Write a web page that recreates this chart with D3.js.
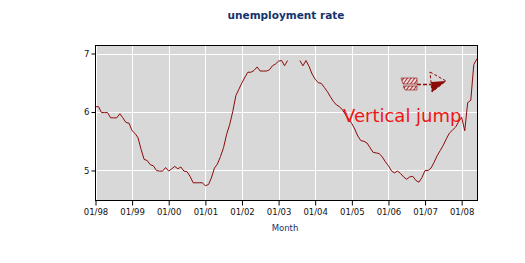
<!DOCTYPE html>
<html>
<head>
<meta charset="utf-8">
<script src="https://cdn.jsdelivr.net/npm/d3@7"></script>
<style>
  html, body { margin: 0; padding: 0; background: #ffffff; }
  svg { display: block; }
</style>
</head>
<body>
<svg id="chart" width="525" height="263"></svg>
<script>
// ---- data ----
const titleText = "unemployment rate";
const xAxisTitle = "Month";
const startYear = 1998;
const rateValues = [
  6.09,6.09,5.99,5.99,5.99,5.90,5.90,5.90,5.97,5.90,5.82,5.81,
  5.68,5.63,5.56,5.36,5.19,5.17,5.10,5.08,5.00,4.99,4.99,5.05,
  4.99,5.03,5.07,5.03,5.06,4.99,4.98,4.90,4.79,4.79,4.79,4.79,
  4.74,4.76,4.87,5.04,5.11,5.24,5.39,5.62,5.79,6.01,6.28,6.39,
  6.50,6.60,6.68,6.68,6.71,6.77,6.70,6.70,6.70,6.72,6.79,6.82,
  6.87,6.88,6.79,6.88,null,null,null,6.88,6.79,6.88,6.78,6.65,
  6.56,6.50,6.49,6.42,6.35,6.26,6.18,6.12,6.09,6.03,5.95,5.88,
  5.80,5.70,5.59,5.51,5.50,5.47,5.39,5.31,5.30,5.29,5.23,5.15,
  5.08,4.99,4.96,4.99,4.95,4.89,4.85,4.89,4.90,4.83,4.80,4.88,
  5.00,5.00,5.04,5.14,5.25,5.34,5.43,5.54,5.64,5.69,5.74,5.83,
  5.91,5.68,6.16,6.20,6.81,6.91
];
const yTickValues = [5, 6, 7];
const yTickLabels = ["5", "6", "7"];
const xTickLabels = ["01/98","01/99","01/00","01/01","01/02","01/03","01/04","01/05","01/06","01/07","01/08"];
const annotationText = "Vertical jump";

// ---- layout ----
const svg = d3.select("#chart");
const plot = { left: 95.5, right: 477.5, top: 45.5, bottom: 200.5 };
const navy = "#14336e";
const lineColor = "#8b0a0a";

const series = rateValues.map((v, i) => ({ date: new Date(Date.UTC(startYear, i, 1)), v }));
const xTickDates = xTickLabels.map((_, i) => new Date(Date.UTC(startYear + i, 0, 1)));

const x = d3.scaleUtc()
  .domain([new Date(Date.UTC(1998, 0, 1)), new Date(Date.UTC(2008, 5, 12))])
  .range([plot.left, plot.right + 0.5]);
const y = d3.scaleLinear()
  .domain([4.487, 7.137])
  .range([plot.bottom, plot.top]);

// background
svg.append("rect")
  .attr("x", plot.left).attr("y", plot.top)
  .attr("width", plot.right - plot.left).attr("height", plot.bottom - plot.top)
  .attr("fill", "#d8d8d8");

// gridlines
const grid = svg.append("g");
grid.selectAll("line.v").data(xTickDates).join("line")
  .attr("x1", d => Math.round(x(d)) + 0.5).attr("x2", d => Math.round(x(d)) + 0.5)
  .attr("y1", plot.top).attr("y2", plot.bottom)
  .attr("stroke", "#ffffff").attr("stroke-width", 1);
grid.selectAll("line.h").data(yTickValues).join("line")
  .attr("x1", plot.left).attr("x2", plot.right)
  .attr("y1", d => Math.round(y(d)) + 0.5).attr("y2", d => Math.round(y(d)) + 0.5)
  .attr("stroke", "#ffffff").attr("stroke-width", 1);

// line
svg.append("clipPath").attr("id", "clip").append("rect")
  .attr("x", plot.left).attr("y", plot.top)
  .attr("width", plot.right - plot.left).attr("height", plot.bottom - plot.top);
const line = d3.line()
  .defined(d => d.v != null)
  .x(d => x(d.date))
  .y(d => y(d.v));
svg.append("path")
  .datum(series)
  .attr("clip-path", "url(#clip)")
  .attr("fill", "none")
  .attr("stroke", lineColor)
  .attr("stroke-width", 1)
  .attr("d", line);

// frame
svg.append("rect")
  .attr("x", plot.left).attr("y", plot.top)
  .attr("width", plot.right - plot.left).attr("height", plot.bottom - plot.top)
  .attr("fill", "none").attr("stroke", "#000").attr("stroke-width", 1);

// axes
const fontFamily = "'DejaVu Sans', sans-serif";
const yAxis = d3.axisLeft(y)
  .tickValues(yTickValues)
  .tickSize(4)
  .tickPadding(2)
  .tickFormat((d, i) => yTickLabels[i]);
const gy = svg.append("g").attr("transform", `translate(${plot.left},0)`).call(yAxis);
gy.select(".domain").remove();
gy.selectAll("text").attr("font-family", fontFamily).attr("font-size", "8.5px").attr("fill", "#111");
gy.selectAll("line").attr("stroke", "#000");

const xAxis = d3.axisBottom(x)
  .tickValues(xTickDates)
  .tickSize(5)
  .tickPadding(3)
  .tickFormat((d, i) => xTickLabels[i]);
const gx = svg.append("g").attr("transform", `translate(0,${plot.bottom})`).call(xAxis);
gx.select(".domain").remove();
gx.selectAll("text").attr("font-family", fontFamily).attr("font-size", "8.5px").attr("fill", "#111");
gx.selectAll("line").attr("stroke", "#000");

// titles
svg.append("text")
  .attr("x", 286).attr("y", 19)
  .attr("text-anchor", "middle")
  .attr("font-family", fontFamily).attr("font-weight", "bold").attr("font-size", "10.5px")
  .attr("fill", navy)
  .text(titleText);
svg.append("text")
  .attr("x", 285).attr("y", 231)
  .attr("text-anchor", "middle")
  .attr("font-family", fontFamily).attr("font-size", "8.5px")
  .attr("fill", navy)
  .text(xAxisTitle);

// annotation
svg.append("text")
  .attr("x", 343).attr("y", 122)
  .attr("font-family", fontFamily).attr("font-size", "18px")
  .attr("fill", "#ee1515")
  .text(annotationText);

// hatched arrow
const defs = svg.append("defs");
const pat = defs.append("pattern").attr("id", "hatch")
  .attr("patternUnits", "userSpaceOnUse").attr("width", 3).attr("height", 3)
  .attr("patternTransform", "rotate(35)");
pat.append("rect").attr("width", 3).attr("height", 3).attr("fill", "#f3d8d8");
pat.append("line").attr("x1", 0).attr("y1", 0).attr("x2", 0).attr("y2", 3)
  .attr("stroke", lineColor).attr("stroke-width", 1.6);
const arrow = svg.append("g");
arrow.append("path").attr("d", "M401,78 L417,78 L417,84 L403,84 Z")
  .attr("fill", "url(#hatch)").attr("stroke", lineColor).attr("stroke-width", 0.6);
arrow.append("path").attr("d", "M403,86 L417,86 L417,90 L405,90 Z")
  .attr("fill", "url(#hatch)").attr("stroke", lineColor).attr("stroke-width", 0.6);
arrow.append("line").attr("x1", 417).attr("y1", 84.5).attr("x2", 431).attr("y2", 84.5)
  .attr("stroke", lineColor).attr("stroke-width", 1.5).attr("stroke-dasharray", "4,2");
arrow.append("path").attr("d", "M431,82 L446,81 L432,92 Z")
  .attr("fill", lineColor);
arrow.append("path").attr("d", "M430,72 L446,81 L432,92 Z")
  .attr("fill", "none").attr("stroke", lineColor).attr("stroke-width", 1).attr("stroke-dasharray", "3,2");
</script>
</body>
</html>
